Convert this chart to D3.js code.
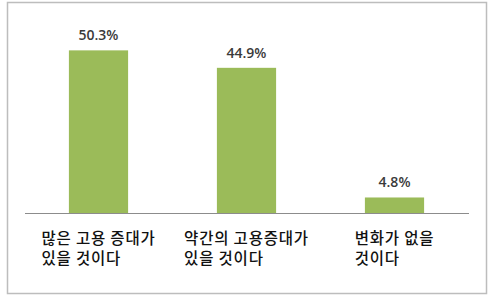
<!DOCTYPE html>
<html>
<head>
<meta charset="utf-8">
<script src="https://cdn.jsdelivr.net/npm/d3@7"></script>
<style>
  body { margin: 0; background: #fff; }
  svg { display: block; }
</style>
</head>
<body>
<div id="chart"></div>
<script>
var categories = ['cat1', 'cat2', 'cat3'];
var categoryLines = [
    ['많은 고용 증대가', '있을 것이다'],
    ['약간의 고용증대가', '있을 것이다'],
    ['변화가 없을', '것이다']
];
var values = [50.3, 44.9, 4.8];
var valueLabels = ['50.3%', '44.9%', '4.8%'];

var width = 500, height = 298;
var plot = {left: 24.5, right: 468.5, top: 19, bottom: 213};

var svg = d3.select('#chart').append('svg')
            .attr('width', width)
            .attr('height', height);

// outer frame
svg.append('rect')
   .attr('x', 7.5).attr('y', 2.5)
   .attr('width', 479).attr('height', 291)
   .attr('fill', '#fff')
   .attr('stroke', '#bdbdbd')
   .attr('stroke-width', 1.5);

var x = d3.scaleBand()
          .domain(categories)
          .range([plot.left, plot.right])
          .paddingInner(0.6)
          .paddingOuter(0.3);

var y = d3.scaleLinear()
          .domain([0, 60])
          .range([plot.bottom, plot.top]);

// bars
svg.append('g').selectAll('rect')
   .data(values)
   .enter().append('rect')
      .attr('x', function(d, i) { return x(categories[i]); })
      .attr('y', function(d) { return y(d); })
      .attr('width', x.bandwidth())
      .attr('height', function(d) { return y(0) - y(d); })
      .attr('fill', '#9bbb59');

// baseline (x axis without ticks/labels)
var xAxis = d3.axisBottom(x).tickSize(0).tickFormat('');
var axisG = svg.append('g')
   .attr('transform', 'translate(0,' + y(0) + ')')
   .call(xAxis);
axisG.select('.domain').attr('stroke', '#8c8c8c').attr('stroke-width', 1.2);

// value labels
svg.append('g').selectAll('text')
   .data(values)
   .enter().append('text')
      .attr('x', function(d, i) { return x(categories[i]) + x.bandwidth() / 2; })
      .attr('y', function(d) { return y(d) - 10; })
      .attr('text-anchor', 'middle')
      .attr('font-family', '"Open Sans", "Noto Sans", sans-serif')
      .attr('font-size', 14)
      .attr('font-weight', 600)
      .attr('fill', '#3a3a3a')
      .text(function(d, i) { return valueLabels[i]; });

// category labels: lines left-aligned, block centred on the band
categories.forEach(function(c, i) {
    var cx = x(c) + x.bandwidth() / 2;
    var g = svg.append('g');
    var texts = categoryLines[i].map(function(line, j) {
        return g.append('text')
                .attr('y', 244 + j * 20)
                .attr('font-family', '"Noto Sans CJK KR", sans-serif')
                .attr('font-size', 15.5)
                .attr('font-weight', 500)
                .attr('letter-spacing', 0.8)
                .attr('fill', '#111')
                .text(line);
    });
    var maxW = d3.max(texts, function(t) { return t.node().getComputedTextLength(); });
    texts.forEach(function(t) { t.attr('x', cx - maxW / 2); });
});
</script>
</body>
</html>
